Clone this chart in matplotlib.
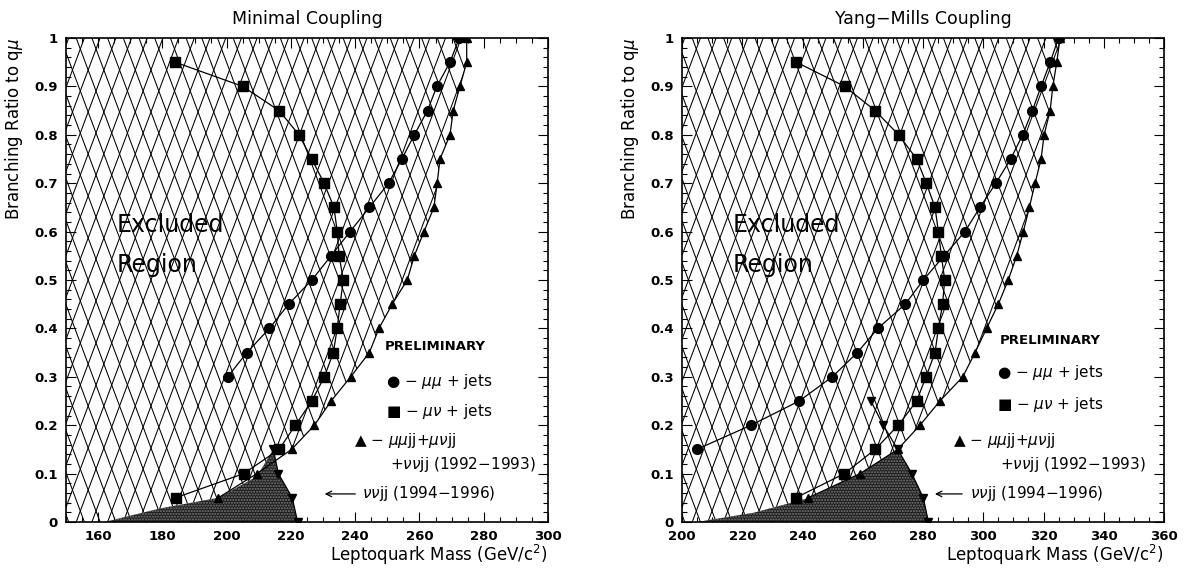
import numpy as np
import matplotlib
matplotlib.use('Agg')
import matplotlib.pyplot as plt
from matplotlib.patches import Polygon
from matplotlib.collections import LineCollection
from matplotlib.ticker import MultipleLocator, FuncFormatter

plt.rcParams['font.family'] = ['DejaVu Sans']
plt.rcParams['mathtext.fontset'] = 'dejavusans'

# Branching ratio values (y)
br_sq = [0.95, 0.9, 0.85, 0.8, 0.75, 0.7, 0.65, 0.6, 0.55, 0.5,
         0.45, 0.4, 0.35, 0.3, 0.25, 0.2, 0.15, 0.1, 0.05]
br_tri = [0.05, 0.1, 0.15, 0.2, 0.25, 0.3, 0.35, 0.4, 0.45, 0.5,
          0.55, 0.6, 0.65, 0.7, 0.75, 0.8, 0.85, 0.9, 0.95, 1.0]

# Minimal coupling
min_sq = [184, 205, 216.3, 222.5, 226.5, 230.3, 233.4, 234.4, 235, 236.3,
          235.3, 234.4, 233.2, 230.4, 226.5, 221.4, 216.3, 205.3, 184.1]
min_br_ci = [0.3, 0.35, 0.4, 0.45, 0.5, 0.55, 0.6, 0.65, 0.7, 0.75,
             0.8, 0.85, 0.9, 0.95, 1.0]
min_ci = [200.3, 206.3, 213.3, 219.3, 226.5, 232.5, 238.4, 244.4, 250.4, 254.5,
          258.4, 262.5, 265.4, 269.5, 272.4]
min_tri = [197.4, 209.4, 220.2, 227.3, 232.5, 238.6, 244.4, 247.4, 251.5, 256.2,
           258.4, 261.4, 264.5, 265.5, 266.4, 269.5, 270.5, 272.6, 274.7, 274.7]
min_dn = [214.5, 216.1, 220.4, 222.1]
min_br_dn = [0.15, 0.1, 0.05, 0.0]
min_edge = [162, 179.3, 197.4, 209.4]
min_br_edge = [0.0, 0.028, 0.05, 0.094]

# Yang-Mills coupling
ym_sq = [238, 254, 264.1, 271.9, 277.9, 281.1, 284, 285.1, 286.1, 287.2,
         286.5, 285.1, 284, 281, 277.9, 271.8, 264.1, 253.9, 237.8]
ym_br_ci = [0.15, 0.2, 0.25, 0.3, 0.35, 0.4, 0.45, 0.5, 0.55, 0.6,
            0.65, 0.7, 0.75, 0.8, 0.85, 0.9, 0.95, 1.0]
ym_ci = [204.9, 222.9, 238.9, 249.9, 258.2, 265, 274.1, 280.1, 287, 293.9,
         298.9, 304.2, 309.1, 313.1, 316.3, 319.2, 322.2, 325.0]
ym_tri = [241.9, 259.1, 271.6, 279, 285.6, 293.2, 297.3, 301.1, 305, 308.3,
          311.1, 313.3, 315.3, 317.2, 319.2, 320.2, 322.2, 323.1, 324.4, 325.5]
ym_dn = [262.7, 266.8, 271.6, 276.3, 280.1, 281.8]
ym_br_dn = [0.25, 0.2, 0.15, 0.1, 0.05, 0.0]
ym_edge = [205, 223.7, 241.9, 259.1]
ym_br_edge = [0.0, 0.019, 0.049, 0.1]


def diamond_hatch(ax, verts):
    patch = Polygon(verts, closed=True, facecolor='none', edgecolor='none')
    ax.add_patch(patch)
    d = 15.7 / 482
    s = (42.0 / 484) / d
    segs = []
    for x0 in np.arange(-0.5, 1.05, d):
        segs.append([(x0, 0), (x0 + 1 / s, 1)])
        segs.append([(x0, 1), (x0 + 1 / s, 0)])
    lc = LineCollection(segs, colors='k', linewidths=0.75, transform=ax.transAxes)
    lc.set_clip_path(patch)
    ax.add_collection(lc, autolim=False)


def panel(ax, title, xlim, sq, ci, br_ci, tri, dn, br_dn, edge, br_edge, peak_i, tri_start):
    x0, x1 = xlim
    # hatched excluded region
    verts = [(x0, 0)] + list(zip(edge, br_edge)) + [(dn[peak_i], br_dn[peak_i])]
    verts += list(zip(tri[tri_start:], br_tri[tri_start:])) + [(x0, 1.0)]
    diamond_hatch(ax, verts)
    # dark nu nu jj region
    dark = list(zip(edge, br_edge)) + list(zip(dn[peak_i:], br_dn[peak_i:]))
    ax.add_patch(Polygon(dark, closed=True, facecolor='#1c1c1c', edgecolor='#7a7a7a',
                         hatch='......', lw=0, zorder=2))

    ax.plot(sq, br_sq, 'k-', marker='s', ms=7, lw=0.9, zorder=4)
    ax.plot(ci, br_ci, 'k-', marker='o', ms=7, lw=0.9, zorder=4)
    ax.plot(tri, br_tri, 'k-', marker='^', ms=5.5, lw=0.9, zorder=4)
    ax.plot(dn, br_dn, 'k-', marker='v', ms=5.5, lw=0.9, zorder=4)

    ax.set_xlim(x0, x1)
    ax.set_ylim(0, 1)
    ax.xaxis.set_major_locator(MultipleLocator(20))
    ax.xaxis.set_minor_locator(MultipleLocator(5))
    ax.yaxis.set_major_locator(MultipleLocator(0.1))
    ax.yaxis.set_minor_locator(MultipleLocator(0.02))
    ax.yaxis.set_major_formatter(FuncFormatter(lambda v, p: '%g' % round(v, 2)))
    ax.tick_params(which='both', direction='in', top=True, right=True, width=0.8)
    ax.tick_params(which='major', length=7, labelsize=9.5, pad=6)
    ax.tick_params(which='minor', length=3.5)
    for lab in ax.get_xticklabels() + ax.get_yticklabels():
        lab.set_fontweight('bold')
    for sp in ax.spines.values():
        sp.set_linewidth(1.2)

    ax.set_title(title, fontsize=12.5, pad=10)
    ax.set_xlabel('Leptoquark Mass (GeV/c$^2$)', fontsize=12, ha='right', x=1.0, labelpad=0)
    ax.set_ylabel(r'Branching Ratio to q$\mu$', fontsize=12, ha='right')
    ax.yaxis.set_label_coords(-0.085, 1.0)

    ax.text(0.105, 0.614, 'Excluded', transform=ax.transAxes, fontsize=17,
            va='center')
    ax.text(0.105, 0.531, 'Region', transform=ax.transAxes, fontsize=17,
            va='center')


fig = plt.figure(figsize=(11.85, 5.70), dpi=100)
ax1 = fig.add_axes([66 / 1185, 48 / 570, 482 / 1185, 484 / 570])
ax2 = fig.add_axes([682 / 1185, 48 / 570, 482 / 1185, 484 / 570])

panel(ax1, 'Minimal Coupling', (150, 300), min_sq, min_ci, min_br_ci, min_tri,
      min_dn, min_br_dn, min_edge, min_br_edge, 0, 2)
panel(ax2, 'Yang\u2212Mills Coupling', (200, 360), ym_sq, ym_ci, ym_br_ci, ym_tri,
      ym_dn, ym_br_dn, ym_edge, ym_br_edge, 2, 3)

ax1.set_xticks([160, 180, 200, 220, 240, 260, 280, 300])

legend_pos = {
    ax1: dict(pre=(0.662, 0.362), ci=(0.664, 0.291), sq=(0.664, 0.229), tri=(0.598, 0.169),
              nu=(0.672, 0.118), arr=(0.531, 0.606, 0.614, 0.058)),
    ax2: dict(pre=(0.660, 0.374), ci=(0.653, 0.308), sq=(0.653, 0.242), tri=(0.562, 0.169),
              nu=(0.660, 0.118), arr=(0.519, 0.587, 0.598, 0.058)),
}
for ax, p in legend_pos.items():
    kw = dict(transform=ax.transAxes, va='center', fontsize=11)
    ax.text(*p['pre'], 'PRELIMINARY', transform=ax.transAxes, va='center',
            fontsize=9.5, fontweight='semibold')
    ax.text(*p['ci'], '\u25CF \u2212 $\\mu\\mu$ + jets', **kw)
    ax.text(*p['sq'], '\u25A0 \u2212 $\\mu\\nu$ + jets', **kw)
    ax.text(*p['tri'], '\u25B2 \u2212 $\\mu\\mu$jj+$\\mu\\nu$jj', **kw)
    ax.text(*p['nu'], '+$\\nu\\nu$jj (1992\u22121993)', **kw)
    hx, tx, lx, ly = p['arr']
    ax.annotate('', xy=(hx, ly), xytext=(tx, ly), xycoords='axes fraction',
                arrowprops=dict(arrowstyle='->', lw=0.9, color='k'))
    ax.text(lx, ly, '$\\nu\\nu$jj (1994\u22121996)', **kw)

fig.savefig('out.png', dpi=100, facecolor='white')
